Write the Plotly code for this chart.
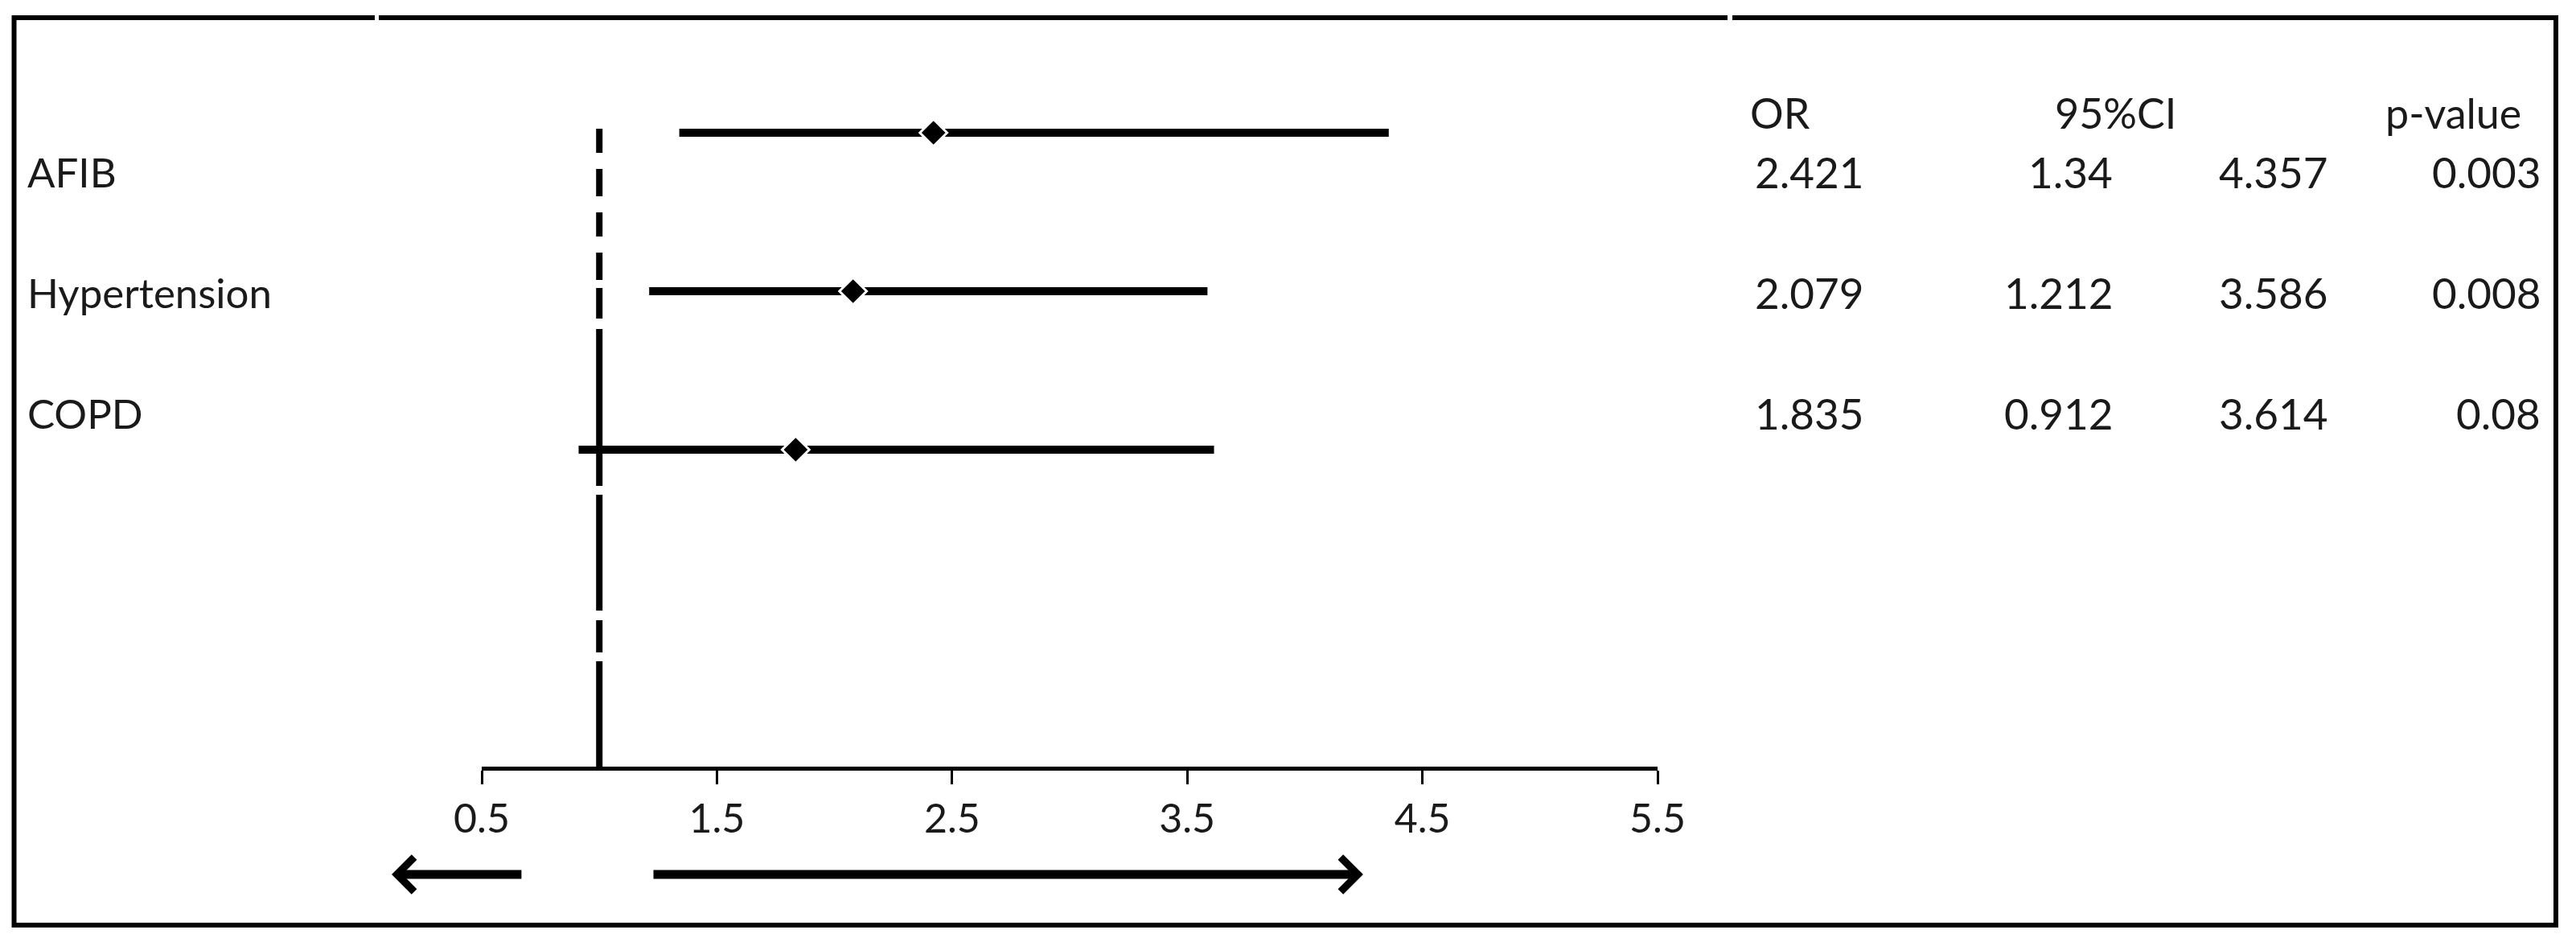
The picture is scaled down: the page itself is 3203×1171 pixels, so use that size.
import plotly.graph_objects as go

# ---------------- data ----------------
factors = ["AFIB", "Hypertension", "COPD"]
odds_ratio = [2.421, 2.079, 1.835]
ci_lower = [1.34, 1.212, 0.912]
ci_upper = [4.357, 3.586, 3.614]
p_values = [0.003, 0.008, 0.08]
row_pos = [4, 3, 2]
x_ticks = [0.5, 1.5, 2.5, 3.5, 4.5, 5.5]
x_tick_labels = ["0.5", "1.5", "2.5", "3.5", "4.5", "5.5"]
reference_value = 1.0
headers = ["OR", "95%CI", "p-value"]

# ---------------- layout constants (pixels, as seen on the page) ----------------
FIG_W, FIG_H = 3203, 1171
OFF = 8  # default body margin of the page
X_RANGE = [0.5, 5.5]
PLOT_L, PLOT_R = 599, 2061
PLOT_T, PLOT_B = 160, 953
Y_RANGE = [0, (PLOT_B - PLOT_T) / 197.0]
FONT = "Lato"
TXT = "#1a1a1a"

def xp(px):
    return (px - PLOT_L) / (PLOT_R - PLOT_L)

def yp(py):
    return (PLOT_B - py) / (PLOT_B - PLOT_T)

def xdata_to_paper(v):
    return (v - X_RANGE[0]) / (X_RANGE[1] - X_RANGE[0])

ROW_TEXT_Y = [213, 363, 513]
HEADER_Y = 140
LABEL_X = 32
COL_RIGHT = [2319, 2629, 2896, 3161]
ARROW_PY = 1087
LEFT_ARROW = (0.674, 0.117)   # tail, tip (x data units)
RIGHT_ARROW = (1.225, 4.248)

fig = go.Figure()

for lo, hi, y in zip(ci_lower, ci_upper, row_pos):
    fig.add_trace(go.Scatter(x=[lo, hi], y=[y, y], mode="lines",
                             line=dict(color="black", width=10),
                             showlegend=False, hoverinfo="skip", cliponaxis=False))

fig.add_trace(go.Scatter(x=odds_ratio, y=row_pos, mode="markers",
                         marker=dict(symbol="diamond", size=26, color="black",
                                     line=dict(color="white", width=3)),
                         showlegend=False, cliponaxis=False))

annotations = []
for name, py in zip(factors, ROW_TEXT_Y):
    annotations.append(dict(x=xp(LABEL_X), y=yp(py), xref="paper", yref="paper",
                            text=name, showarrow=False, xanchor="left", yanchor="middle",
                            font=dict(family=FONT, size=51, color=TXT)))

cols = [odds_ratio, ci_lower, ci_upper, p_values]
for col, cx in zip(cols, COL_RIGHT):
    for v, py in zip(col, ROW_TEXT_Y):
        annotations.append(dict(x=xp(cx), y=yp(py), xref="paper", yref="paper",
                                text=str(v), showarrow=False, xanchor="right", yanchor="middle",
                                font=dict(family=FONT, size=53, color=TXT)))

header_pos = [(2174, "left"), (2630, "center"), (2964, "left")]
for h, (hx, anc) in zip(headers, header_pos):
    annotations.append(dict(x=xp(hx), y=yp(HEADER_Y), xref="paper", yref="paper",
                            text=h, showarrow=False, xanchor=anc, yanchor="middle",
                            font=dict(family=FONT, size=52, color=TXT)))

px_per_unit = (PLOT_R - PLOT_L) / (X_RANGE[1] - X_RANGE[0])
for tail, tip in (LEFT_ARROW, RIGHT_ARROW):
    annotations.append(dict(x=xdata_to_paper(tip), y=yp(ARROW_PY), xref="paper", yref="paper",
                            ax=(tail - tip) * px_per_unit, ay=0, axref="pixel", ayref="pixel",
                            text="", showarrow=True, arrowhead=4, arrowsize=0.75,
                            arrowwidth=11, arrowcolor="black", standoff=0, startstandoff=0))

shapes = [
    # reference line at OR = 1
    dict(type="line", xref="x", yref="paper", x0=reference_value, x1=reference_value,
         y0=1, y1=0, layer="below",
         line=dict(color="black", width=8,
                   dash="30px,20px,34px,20px,30px,20px,34px,10px,38px,13px,195px,11px,144px,12px,40px,11px,131px")),
    # frame
    dict(type="rect", xref="paper", yref="paper", x0=xp(17.5), x1=xp(3178),
         y0=yp(1150), y1=yp(22), line=dict(color="black", width=6), layer="above"),
    dict(type="rect", xref="paper", yref="paper", x0=xp(466), x1=xp(471),
         y0=yp(27), y1=yp(17), fillcolor="white", line=dict(width=0), layer="above"),
    dict(type="rect", xref="paper", yref="paper", x0=xp(2148), x1=xp(2154),
         y0=yp(27), y1=yp(17), fillcolor="white", line=dict(width=0), layer="above"),
]

fig.update_layout(
    width=FIG_W, height=FIG_H,
    margin=dict(l=PLOT_L - OFF, r=FIG_W - PLOT_R + OFF, t=PLOT_T - OFF,
                b=FIG_H - PLOT_B + OFF, pad=0),
    paper_bgcolor="white", plot_bgcolor="white",
    showlegend=False,
    annotations=annotations, shapes=shapes,
    xaxis=dict(range=X_RANGE, tickvals=x_ticks, ticktext=x_tick_labels,
               showgrid=False, zeroline=False, showline=True, linecolor="black", linewidth=5,
               ticks="outside", ticklen=17, tickwidth=3, tickcolor="black",
               tickfont=dict(family=FONT, size=50, color=TXT), fixedrange=True),
    yaxis=dict(range=Y_RANGE, visible=False, showgrid=False, zeroline=False, fixedrange=True),
)

fig.write_html("out.html")
